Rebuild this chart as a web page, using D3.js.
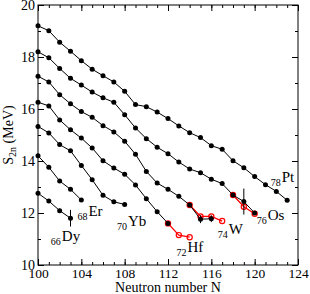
<!DOCTYPE html>
<html>
<head>
<meta charset="utf-8">
<script src="https://cdn.jsdelivr.net/npm/d3@7"></script>
<style>
  body { margin: 0; background: #fff; }
  text { font-family: "Liberation Serif", "Times New Roman", serif; }
</style>
</head>
<body>
<div id="vis"></div>
<script>
// S2n values (MeV), each series starts at N = 100
const ptVals = [19.2, 19.01, 18.57, 18.22, 17.86, 17.53, 17.28, 17.04, 16.68, 16.17, 16.09, 15.88,
                15.63, 15.35, 15.09, 14.9, 14.59, 14.45, 14.01, 13.74, 13.4, 13.09, 12.83, 12.49];
const osVals = [18.2, 17.97, 17.56, 17.18, 16.92, 16.65, 16.43, 16.26, 15.78, 15.27, 14.86, 14.53,
                14.28, 13.96, 13.69, 13.55, 13.3, 13.13, 12.69, 12.44, 12.0];
const wVals  = [17.26, 17.04, 16.55, 16.2, 15.9, 15.68, 15.36, 15.12, 14.76, 14.26, 13.6, 13.15,
                12.91, 12.64, 12.31, 11.76, 11.78];
const hfVals = [16.26, 16.12, 15.58, 15.2, 14.88, 14.5, 14.01, 13.73, 13.49, 13.08, 12.55, 12.05, 11.6];
const ybVals = [15.33, 15.08, 14.63, 14.39, 13.83, 13.28, 12.68, 12.43, 12.33];
const erVals = [14.2, 13.76, 13.23, 12.91, 12.5];
const dyVals = [12.76, 12.46, 12.09, 11.8];

// red (open circle) series: [N, S2n]
const osRed = [[118, 12.69], [119, 12.24], [120, 11.97]];
const wRed  = [[114, 12.31], [115, 11.87], [116, 11.87], [117, 11.69]];
const hfRed = [[112, 11.6], [113, 11.15], [114, 11.07]];

// error bars: [N, S2n, half width]
const errBars = [[102, 12.09, 0.08], [103, 11.8, 0.32], [115, 11.76, 0.15], [116, 11.78, 0.13], [119, 12.44, 0.5]];

// element labels: [mass-number subscript, symbol, N, S2n at baseline]
const labels = [["66", "Dy", 102.2, 10.92], ["68", "Er", 104.65, 11.9], ["70", "Yb", 108.3, 11.5],
                ["72", "Hf", 113.8, 10.5], ["74", "W", 117.6, 11.2], ["76", "Os", 121.2, 11.75],
                ["78", "Pt", 122.5, 13.2]];

const xTicks = [100, 104, 108, 112, 116, 120, 124];
const yTicks = [10, 12, 14, 16, 18, 20];

const W = 310, H = 294;
const margin = { top: 5, right: 12, bottom: 29, left: 38 };
const width = W - margin.left - margin.right;
const height = H - margin.top - margin.bottom;

const svg = d3.select("#vis").append("svg")
    .attr("width", W).attr("height", H)
  .append("g")
    .attr("transform", `translate(${margin.left},${margin.top})`);

const x = d3.scaleLinear().domain([100, 124]).range([0, width]);
const y = d3.scaleLinear().domain([10, 20]).range([height, 0]);

// frame
svg.append("rect").attr("width", width).attr("height", height)
    .attr("fill", "none").attr("stroke", "#000").attr("stroke-width", 1);

// inward ticks on all four sides
const minorX = d3.range(100, 125), minorY = d3.range(10, 21);
function ticks(axis, vals, size) {
  return axis.tickValues(vals).tickSize(size).tickFormat("");
}
svg.append("g").attr("transform", `translate(0,${height})`).call(ticks(d3.axisTop(x), minorX, 3));
svg.append("g").attr("transform", `translate(0,${height})`).call(ticks(d3.axisTop(x), xTicks, 6));
svg.append("g").call(ticks(d3.axisBottom(x), minorX, 3));
svg.append("g").call(ticks(d3.axisBottom(x), xTicks, 6));
svg.append("g").call(ticks(d3.axisRight(y), minorY, 3));
svg.append("g").call(ticks(d3.axisRight(y), yTicks, 6));
svg.append("g").attr("transform", `translate(${width},0)`).call(ticks(d3.axisLeft(y), minorY, 3));
svg.append("g").attr("transform", `translate(${width},0)`).call(ticks(d3.axisLeft(y), yTicks, 6));
svg.selectAll(".domain").remove();

// tick labels
svg.append("g").attr("transform", `translate(0,${height})`)
    .call(d3.axisBottom(x).tickValues(xTicks).tickSize(0).tickPadding(3))
    .call(g => g.select(".domain").remove())
    .selectAll("text").attr("font-size", 13.5).attr("fill", "#000")
    .attr("font-family", "Liberation Serif");
svg.append("g")
    .call(d3.axisLeft(y).tickValues(yTicks).tickSize(0).tickPadding(3))
    .call(g => g.select(".domain").remove())
    .selectAll("text").attr("font-size", 14).attr("fill", "#000")
    .attr("font-family", "Liberation Serif");

// axis titles
svg.append("text").attr("x", width / 2).attr("y", height + 27)
    .attr("text-anchor", "middle").attr("font-size", 14).text("Neutron number N");
const yl = svg.append("text").attr("transform", `translate(-25,${height / 2}) rotate(-90)`)
    .attr("text-anchor", "middle").attr("font-size", 14);
yl.append("tspan").text("S");
yl.append("tspan").attr("font-size", 10).attr("dy", 3).text("2n");
yl.append("tspan").attr("dy", -3).text(" (MeV)");

const line = d3.line().x(d => x(d[0])).y(d => y(d[1]));
const toPts = vals => vals.map((v, i) => [100 + i, v]);

// red series (underneath)
[osRed, wRed, hfRed].forEach(s => {
  svg.append("path").datum(s).attr("d", line)
      .attr("fill", "none").attr("stroke", "#ff0000").attr("stroke-width", 1.3);
  svg.append("g").selectAll("circle").data(s).join("circle")
      .attr("cx", d => x(d[0])).attr("cy", d => y(d[1])).attr("r", 2.6)
      .attr("fill", "none").attr("stroke", "#ff0000").attr("stroke-width", 1.2);
});

// black series
[ptVals, osVals, wVals, hfVals, ybVals, erVals, dyVals].forEach(vals => {
  const pts = toPts(vals);
  svg.append("path").datum(pts).attr("d", line)
      .attr("fill", "none").attr("stroke", "#000").attr("stroke-width", 1);
  svg.append("g").selectAll("circle").data(pts).join("circle")
      .attr("cx", d => x(d[0])).attr("cy", d => y(d[1])).attr("r", 2.5)
      .attr("fill", "#000");
});

// error bars
svg.append("g").selectAll("line").data(errBars).join("line")
    .attr("x1", d => x(d[0])).attr("x2", d => x(d[0]))
    .attr("y1", d => y(d[1] - d[2])).attr("y2", d => y(d[1] + d[2]))
    .attr("stroke", "#000").attr("stroke-width", 1);

// element labels
labels.forEach(([sub, el, n, v]) => {
  svg.append("text").attr("x", x(n) - 1).attr("y", y(v) + 4)
      .attr("text-anchor", "end").attr("font-size", 10).attr("fill", "#000").text(sub);
  svg.append("text").attr("x", x(n)).attr("y", y(v))
      .attr("font-size", 15).attr("fill", "#000").text(el);
});
</script>
</body>
</html>
